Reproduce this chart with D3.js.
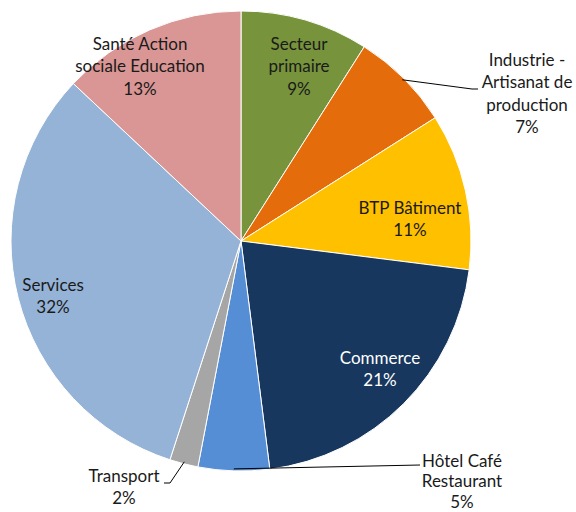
<!DOCTYPE html>
<html>
<head>
<meta charset="utf-8">
<script src="https://cdn.jsdelivr.net/npm/d3@7"></script>
<style>
  html, body { margin: 0; padding: 0; background: #fff; }
  svg { display: block; }
  text { font-family: Lato, "Open Sans", sans-serif; font-size: 17px; fill: #1a1a1a; }
</style>
</head>
<body>
<svg id="chart" width="576" height="512"></svg>
<script>
// Sector shares (%), clockwise from 12 o'clock
const categories = [
  "Secteur primaire",
  "Industrie - Artisanat de production",
  "BTP Bâtiment",
  "Commerce",
  "Hôtel Café Restaurant",
  "Transport",
  "Services",
  "Santé Action sociale Education"
];
const values = [9, 7, 11, 21, 5, 2, 32, 13];
const labelLines = [
  ["Secteur", "primaire"],
  ["Industrie -", "Artisanat de", "production"],
  ["BTP Bâtiment"],
  ["Commerce"],
  ["Hôtel Café", "Restaurant"],
  ["Transport"],
  ["Services"],
  ["Santé Action", "sociale Education"]
];
const colors = ["#77933C", "#E46C0A", "#FFC000", "#17375E", "#558ED5", "#A6A6A6", "#95B3D7", "#D99694"];

// Layout: label centre (relative to pie centre) of the first line, and leader line info
const cx = 241, cy = 241, radius = 230, lineH = 22.5;
const labelAt = [
  { x: 58, y: -197 },
  { x: 286, y: -181, leader: [[472, 89], [478, 89]] },
  { x: 169, y: -33 },
  { x: 139, y: 117, fill: "#fff" },
  { x: 221, y: 220, lh: 20.5, leader: [[420, 465]] },
  { x: -117, y: 235, leader: [[170, 483], [164, 483]] },
  { x: -188, y: 44 },
  { x: -101, y: -197 }
];

const svg = d3.select("#chart");
const g = svg.append("g").attr("transform", `translate(${cx},${cy})`);

const pie = d3.pie().sort(null).value(d => d.value);
const arcs = pie(values.map((v, i) => ({ value: v, i })));
const arc = d3.arc().innerRadius(0).outerRadius(radius);

g.selectAll("path.slice")
  .data(arcs)
  .join("path")
  .attr("class", "slice")
  .attr("d", arc)
  .attr("fill", d => colors[d.data.i])
  .attr("stroke", "#fff")
  .attr("stroke-width", 1);

// Leader lines from slice edge to outside labels
const edgeArc = d3.arc().innerRadius(radius - 2).outerRadius(radius - 2);
arcs.forEach(d => {
  const lab = labelAt[d.data.i];
  if (!lab.leader) return;
  const start = edgeArc.centroid(d);
  const pts = [[start[0], start[1]], ...lab.leader.map(p => [p[0] - cx, p[1] - cy])];
  g.append("path")
    .attr("d", d3.line()(pts))
    .attr("fill", "none")
    .attr("stroke", "#000")
    .attr("stroke-width", 1);
});

// Labels: category lines plus percentage
arcs.forEach(d => {
  const i = d.data.i;
  const lab = labelAt[i];
  const lines = labelLines[i].concat([Math.round(values[i]) + "%"]);
  const t = g.append("text")
    .attr("text-anchor", "middle")
    .attr("x", lab.x)
    .attr("y", lab.y)
    .style("fill", lab.fill || "#1a1a1a");
  lines.forEach((s, k) => {
    t.append("tspan")
      .attr("x", lab.x)
      .attr("dy", k === 0 ? "0.35em" : (lab.lh || lineH))
      .text(s);
  });
});
</script>
</body>
</html>
